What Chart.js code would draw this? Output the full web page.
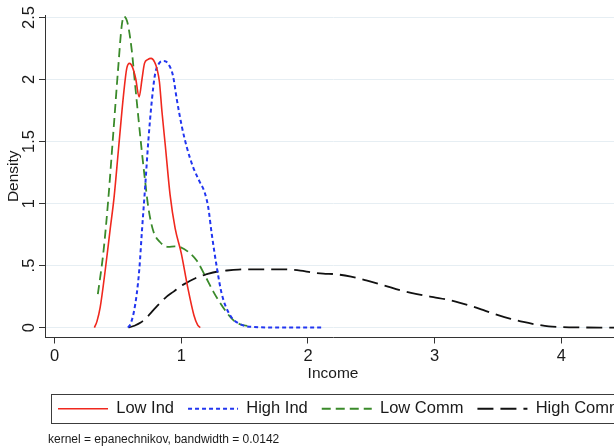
<!DOCTYPE html>
<html>
<head>
<meta charset="utf-8">
<script src="https://cdn.jsdelivr.net/npm/chart.js@4"></script>
<style>
  html, body { margin: 0; padding: 0; background: #fff; overflow: hidden; }
  #wrap { width: 660px; height: 447px; }
</style>
</head>
<body>
<div id="wrap"><canvas id="densityChart" width="660" height="447"></canvas></div>
<script>
// Densités
const lowIndX = [0.315, 0.335, 0.36, 0.40, 0.44, 0.47, 0.505, 0.545, 0.57, 0.592, 0.615, 0.64, 0.668, 0.69, 0.71, 0.735, 0.762, 0.79, 0.81, 0.828, 0.848, 0.875, 0.912, 0.952, 1.0, 1.05, 1.10, 1.13, 1.15];
const lowIndY = [0, 0.05, 0.16, 0.46, 0.80, 1.05, 1.44, 1.88, 2.09, 2.13, 2.10, 2.01, 1.86, 2.0, 2.13, 2.16, 2.17, 2.14, 2.08, 1.98, 1.74, 1.46, 1.07, 0.80, 0.60, 0.33, 0.10, 0.02, 0];

const highIndX = [0.58, 0.60, 0.625, 0.65, 0.67, 0.69, 0.715, 0.74, 0.767, 0.793, 0.825, 0.858, 0.895, 0.935, 0.965, 1.005, 1.045, 1.095, 1.148, 1.185, 1.213, 1.24, 1.28, 1.32, 1.385, 1.46, 1.57, 1.80, 2.11];
const highIndY = [0, 0.03, 0.12, 0.28, 0.48, 0.78, 1.13, 1.50, 1.82, 2.04, 2.13, 2.15, 2.13, 2.03, 1.84, 1.62, 1.45, 1.29, 1.17, 1.09, 0.97, 0.76, 0.49, 0.27, 0.10, 0.03, 0.005, 0, 0];

const lowCommX = [0.342, 0.385, 0.424, 0.464, 0.503, 0.530, 0.548, 0.565, 0.582, 0.609, 0.635, 0.661, 0.688, 0.714, 0.740, 0.779, 0.832, 0.898, 0.950, 0.990, 1.056, 1.122, 1.187, 1.253, 1.332, 1.411, 1.47, 1.555];
const lowCommY = [0.27, 0.60, 1.03, 1.57, 2.10, 2.43, 2.51, 2.49, 2.43, 2.24, 1.97, 1.70, 1.43, 1.19, 0.97, 0.78, 0.69, 0.65, 0.655, 0.65, 0.61, 0.54, 0.42, 0.29, 0.16, 0.06, 0.025, 0.01];

const highCommX = [0.585, 0.63, 0.68, 0.73, 0.78, 0.835, 0.885, 0.94, 0.99, 1.04, 1.095, 1.15, 1.20, 1.28, 1.36, 1.45, 1.54, 1.65, 1.80, 1.94, 2.03, 2.12, 2.22, 2.34, 2.46, 2.60, 2.73, 2.86, 2.99, 3.10, 3.20, 3.30, 3.40, 3.50, 3.60, 3.70, 3.80, 3.90, 4.00, 4.15, 4.30, 4.47];
const highCommY = [0, 0.015, 0.04, 0.085, 0.14, 0.20, 0.25, 0.29, 0.33, 0.36, 0.39, 0.415, 0.43, 0.45, 0.46, 0.468, 0.47, 0.47, 0.47, 0.46, 0.445, 0.435, 0.43, 0.41, 0.38, 0.34, 0.30, 0.27, 0.245, 0.225, 0.20, 0.17, 0.135, 0.10, 0.07, 0.045, 0.025, 0.01, 0.004, 0.001, 0, 0];

const seriesNames = ['Low Ind', 'High Ind', 'Low Comm', 'High Comm'];
const xTicks = [0, 1, 2, 3, 4];
const yTicks = [0, 0.5, 1, 1.5, 2, 2.5];
const yTickLabels = ['0', '.5', '1', '1.5', '2', '2.5'];
const noteText = 'kernel = epanechnikov, bandwidth = 0.0142';

Chart.defaults.font.family = '"Liberation Sans", Arial, Helvetica, sans-serif';
Chart.defaults.color = '#1a1a1a';

function toPoints(xs, ys) {
  return xs.map((x, i) => ({ x: x, y: ys[i] }));
}

function makeSet(label, xs, ys, color, dash, width) {
  return {
    label: label,
    data: toPoints(xs, ys),
    borderColor: color,
    backgroundColor: color,
    borderDash: dash,
    borderWidth: width,
    pointRadius: 0,
    fill: false,
    cubicInterpolationMode: 'monotone'
  };
}

// Cadre de la légende + petits décalages de placement
const legendFrame = {
  id: 'legendFrame',
  afterLayout(chart) {
    const legend = chart.legend;
    const boxes = legend.legendHitBoxes;
    const pad = legend.options.labels.padding;
    const contentWidth = boxes.reduce((s, b) => s + b.width, 0) + pad * (boxes.length - 1);
    const shift = 58 - ((legend.left + legend.right) / 2 - contentWidth / 2);
    legend.left += shift;
    legend.right += shift;

    const note = chart.boxes.find(b => b.options && b.options.text === noteText);
    if (note) {
      note.left += 3;
      note.right += 3;
    }
  },
  afterDraw(chart) {
    const boxes = chart.legend.legendHitBoxes;
    const first = boxes[0];
    const last = boxes[boxes.length - 1];
    const ctx = chart.ctx;
    ctx.save();
    ctx.strokeStyle = '#3c3c3c';
    ctx.lineWidth = 1;
    ctx.setLineDash([]);
    ctx.strokeRect(Math.round(first.left - 7) + 0.5, Math.round(first.top - 7) + 0.5,
      Math.round(last.left + last.width - first.left + 14), 29);
    ctx.restore();
  }
};

const ctx = document.getElementById('densityChart');

new Chart(ctx, {
  type: 'line',
  data: {
    datasets: [
      makeSet(seriesNames[0], lowIndX, lowIndY, '#f0281e', [], 1.6),
      makeSet(seriesNames[1], highIndX, highIndY, '#2236f0', [4, 3], 2),
      makeSet(seriesNames[2], lowCommX, lowCommY, '#3a8a2a', [9, 5], 1.8),
      makeSet(seriesNames[3], highCommX, highCommY, '#111111', [16, 7], 1.8)
    ]
  },
  options: {
    responsive: false,
    animation: false,
    layout: { padding: { left: 4.7, right: 39, top: 15, bottom: 0 } },
    scales: {
      x: {
        type: 'linear',
        min: -0.075,
        max: 4.47,
        afterBuildTicks: scale => { scale.ticks = xTicks.map(v => ({ value: v })); },
        grid: { drawOnChartArea: false, tickLength: 6, tickColor: '#333', tickWidth: 1 },
        border: { color: '#333', width: 1 },
        ticks: { padding: 3, maxRotation: 0, font: { size: 16.5 }, color: '#1a1a1a' },
        title: { display: true, text: 'Income', font: { size: 15.5 }, color: '#1a1a1a', padding: { top: -4.6, bottom: 3.2 } }
      },
      y: {
        type: 'linear',
        min: -0.08,
        max: 2.52,
        afterBuildTicks: scale => { scale.ticks = yTicks.map(v => ({ value: v })); },
        grid: { color: '#e6eef3', lineWidth: 1, tickLength: 6, tickColor: '#333', tickWidth: 1 },
        border: { color: '#333', width: 1 },
        ticks: {
          minRotation: 90,
          maxRotation: 90,
          crossAlign: 'center',
          padding: -2,
          font: { size: 16.5 },
          color: '#1a1a1a',
          callback: value => yTickLabels[yTicks.indexOf(value)]
        },
        title: { display: true, text: 'Density', font: { size: 15.5 }, color: '#1a1a1a', padding: { top: 0, bottom: -0.1 } }
      }
    },
    plugins: {
      legend: {
        position: 'bottom',
        labels: {
          usePointStyle: true,
          pointStyle: 'line',
          pointStyleWidth: 50,
          padding: 14,
          font: { size: 16.5 },
          color: '#1a1a1a',
          generateLabels: chart => Chart.defaults.plugins.legend.labels.generateLabels(chart).map(item => {
            const ds = chart.data.datasets[item.datasetIndex];
            item.lineDash = ds.borderDash;
            item.lineWidth = ds.borderWidth;
            item.strokeStyle = ds.borderColor;
            return item;
          })
        }
      },
      subtitle: {
        display: true,
        text: noteText,
        position: 'bottom',
        align: 'start',
        fullSize: false,
        font: { size: 12 },
        color: '#1a1a1a',
        padding: { top: 5, bottom: 0.6 }
      },
      tooltip: { enabled: false }
    }
  },
  plugins: [legendFrame]
});
</script>
</body>
</html>
